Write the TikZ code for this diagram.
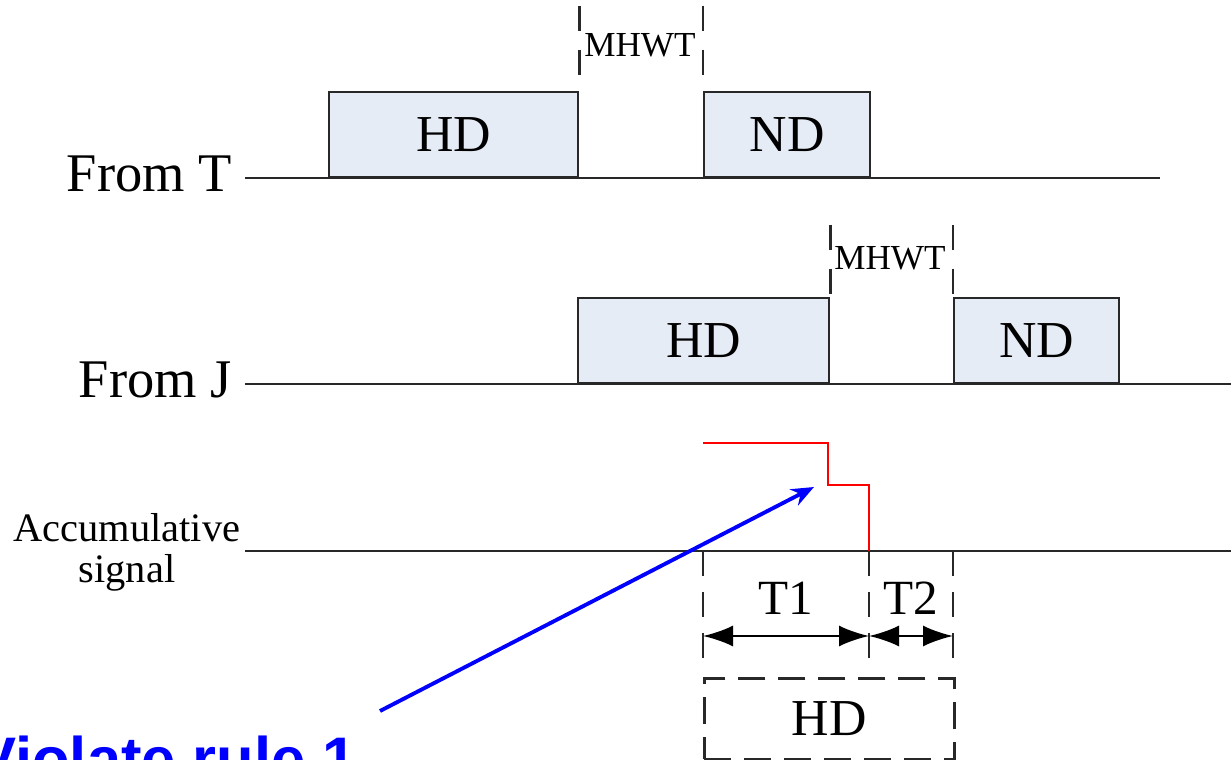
\documentclass[tikz,border=0pt]{standalone}
\usepackage{fontspec}
\setmainfont{Liberation Serif}
\newfontfamily\arialfont{Liberation Sans}
\usepackage{xcolor}
\usetikzlibrary{arrows.meta,positioning,calc}

\definecolor{pulsefill}{RGB}{230,236,246}
\definecolor{linegray}{RGB}{40,40,40}

\begin{document}
\begin{tikzpicture}[x=0.02cm, y=-0.02cm, >=Stealth,
  axis/.style={draw=linegray,line width=1.2pt},
  pulse/.style={draw=linegray,fill=pulsefill,line width=1.4pt,anchor=south west,inner sep=0pt,
    minimum height=1.7cm,font=\fontsize{29.5}{30}\selectfont},
  gapmark/.style={draw=linegray,line width=1.6pt,dash pattern=on 0.5cm off 0.38cm},
  extmark/.style={draw=linegray,line width=1.6pt,dash pattern=on 0.5cm off 0.32cm},
  lbl/.style={inner sep=0pt,font=\fontsize{31}{32}\selectfont},
  small/.style={inner sep=0pt,font=\fontsize{20}{21}\selectfont},
  dim/.style={draw=black,line width=1.4pt,{Latex[length=0.6cm,width=0.42cm]}-{Latex[length=0.6cm,width=0.42cm]}}]
  \useasboundingbox (0,0) rectangle (1231,760);
  % From T
  \node[lbl,anchor=base east] (fromT) at (232,192) {From T};
  \coordinate (tEnd) at (1160,178);
  \draw[axis] (fromT.east |- tEnd) ++(13,0) -- (tEnd);
  \node[pulse,minimum width=4.98cm] (hdT) at (328,178) {HD};
  \node[pulse,minimum width=3.32cm] (ndT) at (703,178) {ND};
  \draw[gapmark] (hdT.north east) ++(0,-85) -- (hdT.north east);
  \draw[gapmark] (ndT.north west) ++(0,-85) -- (ndT.north west);
  \node[small] (mhwtT) at (640,45) {MHWT};
  % From J
  \node[lbl,anchor=base east] (fromJ) at (232,398) {From J};
  \coordinate (jEnd) at (1231,384);
  \draw[axis] (fromJ.east |- jEnd) ++(13,0) -- (jEnd);
  \node[pulse,minimum width=5.02cm] (hdJ) at (577,384) {HD};
  \node[pulse,minimum width=3.3cm] (ndJ) at (953,384) {ND};
  \draw[gapmark] (hdJ.north east) ++(0,-72) -- (hdJ.north east);
  \draw[gapmark] (ndJ.north west) ++(0,-72) -- (ndJ.north west);
  \node[small] (mhwtJ) at (890,258) {MHWT};
  % Accumulative signal
  \node[inner sep=0pt,anchor=north,align=center,font=\fontsize{23}{23.5}\selectfont] (acc) at (127,513) {Accumulative\\signal};
  \coordinate (aStart) at (245,551);
  \coordinate (aEnd) at (1231,551);
  \draw[axis] (aStart) -- (aEnd);
  \draw[red,line width=1.6pt] (703,443) -| (828,485) -| (869,551);
  % T1 / T2
  \coordinate (m1) at (703,551);
  \coordinate (m2) at (869,551);
  \coordinate (m3) at (953,551);
  \foreach \m in {m1,m2,m3}
    \draw[extmark] (\m) -- ++(0,113);
  \draw[dim] ($(m1)+(0,85)$) -- ($(m2)+(0,85)$);
  \draw[dim] ($(m2)+(0,85)$) -- ($(m3)+(0,85)$);
  \node[lbl,font=\fontsize{28}{29}\selectfont] (t1) at (786,598) {T1};
  \node[lbl,font=\fontsize{28}{29}\selectfont] (t2) at (911,598) {T2};
  \node[draw=linegray,line width=1.6pt,dash pattern=on 0.54cm off 0.26cm,anchor=north west,inner sep=0pt,
    minimum width=5cm,minimum height=1.62cm,font=\fontsize{29.5}{30}\selectfont] (hdAcc) at (703,677) {HD};
  % Violation
  \node[anchor=base west,inner sep=0pt,text=blue,font=\arialfont\bfseries\fontsize{35}{36}\selectfont] (violate) at (-25,780) {Violate rule 1};
  \coordinate (vStart) at (380,711);
  \coordinate (vTip) at (814,487);
  \draw[blue,line width=2.2pt,-{Stealth[length=0.45cm,width=0.36cm]}] (vStart) -- (vTip);
\end{tikzpicture}
\end{document}
